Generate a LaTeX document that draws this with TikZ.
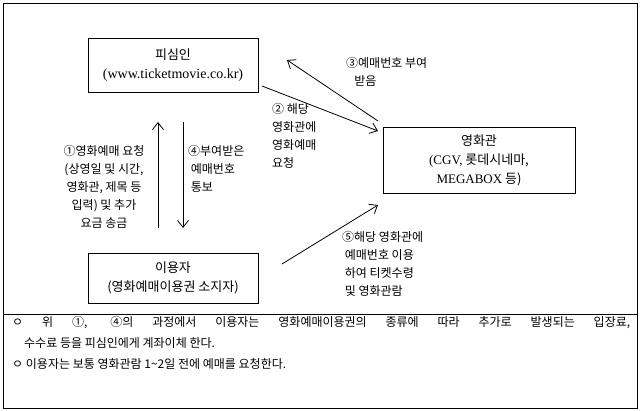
\documentclass[tikz,border=0pt]{standalone}
\usepackage{fontspec}
\setmainfont{Noto Sans CJK KR}
\newfontfamily\latinserif{Liberation Serif}
\usetikzlibrary{arrows.meta, positioning}
\begin{document}
\begin{tikzpicture}[x=1pt, y=-1pt, font=\fontsize{12}{18}\selectfont,
  party/.style={draw, thick, align=center, inner sep=0pt, font=\fontsize{13}{19}\selectfont},
  flow/.style={thick, -{Straight Barb[length=7pt, width=11pt]}},
  note/.style={align=left, inner sep=0pt, anchor=north west}]
  \useasboundingbox (0,0) rectangle (640,411);
  % frame
  \draw (3,3) rectangle (637,408);
  \draw (3,314) -- (637,314);
  % parties
  \node[party, minimum width=170pt, minimum height=54pt] (respondent) at (173,65)
    {피심인\\{\latinserif\fontsize{14}{19}\selectfont (www.ticketmovie.co.kr)}};
  \node[party, minimum width=192pt, minimum height=66pt] (cinema) at (479,160)
    {영화관\\{\latinserif (CGV,} 롯데시네마,\\{\latinserif MEGABOX} 등)};
  \node[party, minimum width=170pt, minimum height=50pt] (user) at (173,278)
    {이용자\\(영화예매이용권 소지자)};
  % connectors
  \coordinate (upA) at (158,228); \coordinate (upB) at (158,122);
  \coordinate (dnA) at (183,122); \coordinate (dnB) at (183,228);
  \draw[flow] (upA) -- (upB);
  \draw[flow] (dnA) -- (dnB);
  \draw[flow] (262,86) -- (378,131);
  \draw[flow] (378,121) -- (287,60);
  \draw[flow] (282,264) -- (378,205);
  % labels
  \node[note, align=center, anchor=north] at (104,145) {①영화예매 요청\\(상영일 및 시간,\\영화관, 제목 등\\입력) 및 추가\\요금 송금};
  \node[note] at (188,145) {④부여받은\\\ 예매번호\\\ 통보};
  \node[note] at (272,103) {② 해당\\영화관에\\영화예매\\요청};
  \node[note] at (346,57) {③예매번호 부여\\\ \ \ 받음};
  \node[note] at (342,231) {⑤해당 영화관에\\\ 예매번호 이용\\\ 하여 티켓수령\\\ 및 영화관람};
  \node[note, text width=618pt, align=justify, font=\fontsize{12}{21}\selectfont] at (12,316)
    {ㅇ 위 ①, ④의 과정에서 이용자는 영화예매이용권의 종류에 따라 추가로 발생되는 입장료,\linebreak
    \hspace*{12pt}수수료 등을 피심인에게 계좌이체 한다.\newline
    ㅇ 이용자는 보통 영화관람 1\textasciitilde 2일 전에 예매를 요청한다.};
\end{tikzpicture}
\end{document}
